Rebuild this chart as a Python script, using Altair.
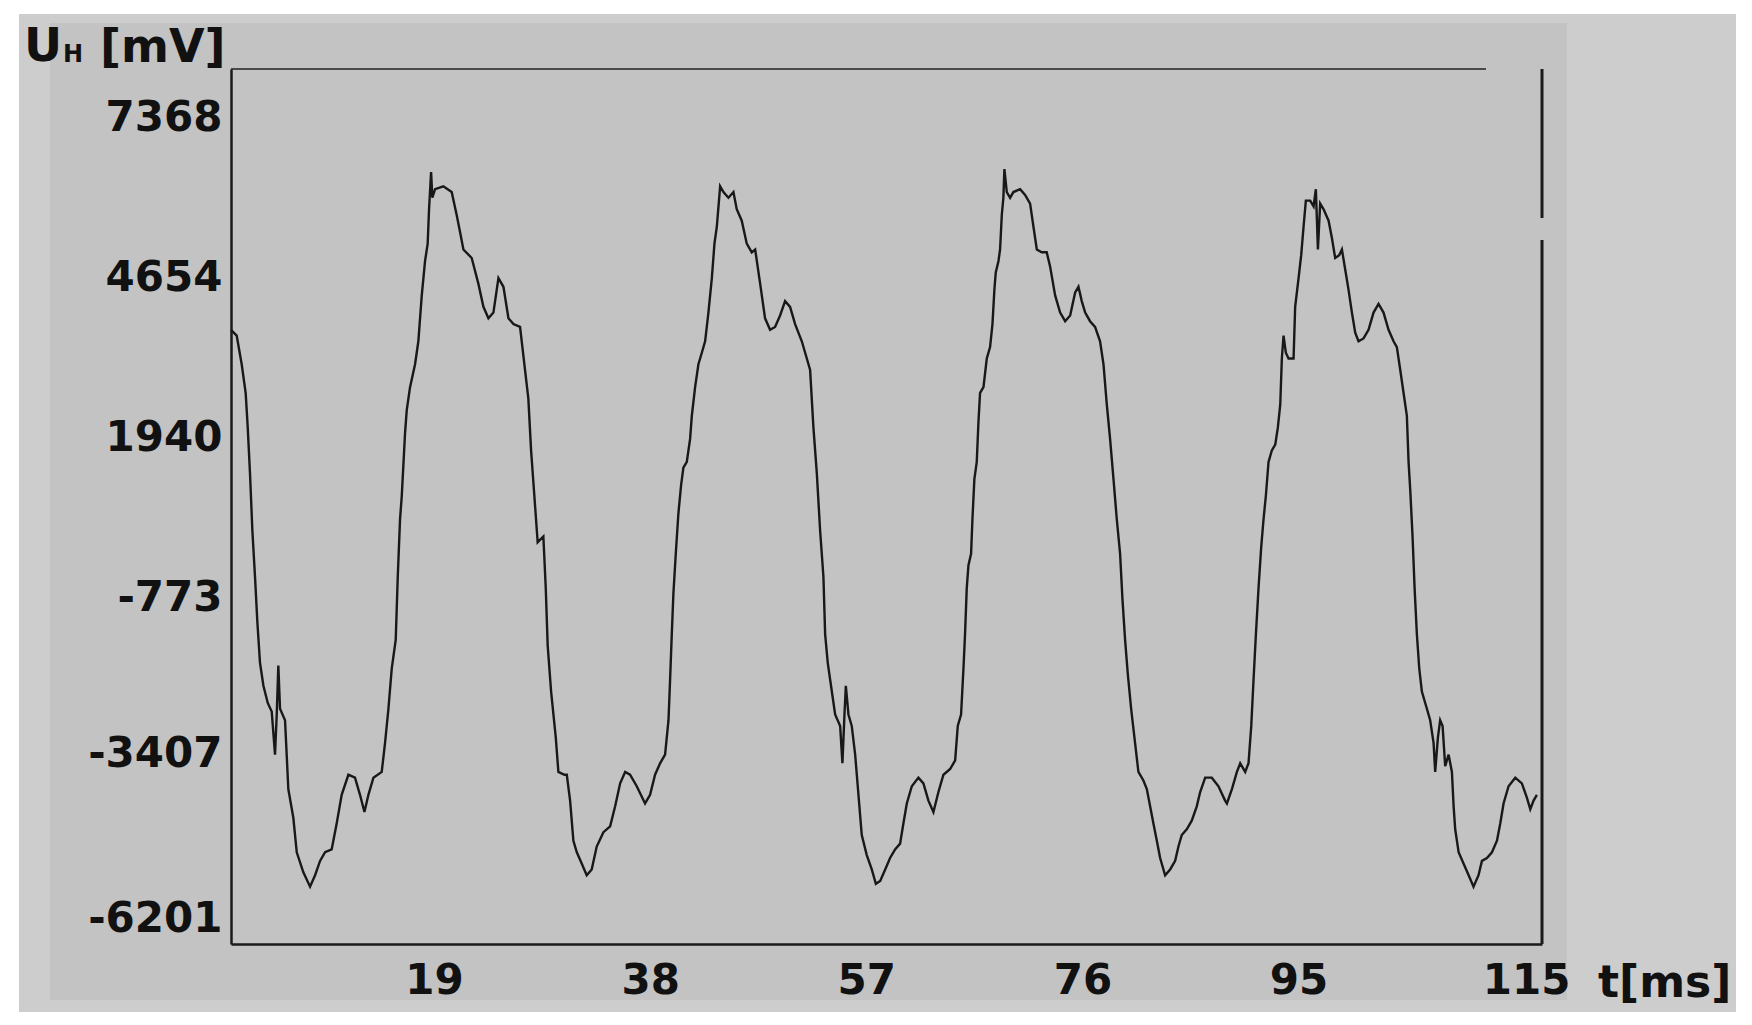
import altair as alt
import pandas as pd

# ---- data (t in ms, U_H in mV) ----
t_ms = [
    1.15, 1.65, 2.09, 2.44, 2.62, 2.82, 3.03, 3.26, 3.47, 3.70, 4.00, 4.38, 4.73, 5.02, 5.17, 5.31, 5.46, 5.90,
    6.19, 6.63, 6.93, 7.51, 8.10, 8.54, 8.98, 9.42, 10.00, 10.44, 10.88, 11.47, 12.05, 12.49, 12.88, 13.23,
    13.67, 14.40, 14.69, 14.99, 15.28, 15.63, 15.81, 16.01, 16.16, 16.45, 16.60, 16.89, 17.33, 17.62, 17.92,
    18.21, 18.44, 18.56, 18.74, 18.85, 19.09, 19.82, 20.55, 20.99, 21.29, 21.58, 22.31, 22.90, 23.34, 23.78,
    24.22, 24.66, 25.10, 25.54, 25.98, 26.56, 27.00, 27.29, 27.53, 27.82, 28.11, 28.61, 28.82, 28.99, 29.29,
    29.70, 29.93, 30.46,
    30.67, 30.96, 31.25, 31.55, 31.99, 32.42, 32.86, 33.30, 33.89, 34.48, 34.92, 35.36, 35.80, 36.23, 36.82,
    37.55, 37.99, 38.43, 38.87, 39.31, 39.61, 39.75, 39.90, 40.04, 40.25, 40.48, 40.72, 40.92, 41.22, 41.51,
    41.66, 41.95, 42.24, 42.54, 42.83, 43.12, 43.42, 43.65, 43.86, 44.15, 44.44, 44.88, 45.32, 45.61, 46.05,
    46.49, 46.93, 47.23, 47.67, 48.10, 48.54, 48.98, 49.42, 49.86, 50.30, 50.74, 51.33, 51.77, 52.06, 52.35,
    52.65, 52.94, 53.23, 53.38, 53.61, 53.97, 54.26, 54.70, 54.90, 55.08, 55.20, 55.43, 55.72, 56.02, 56.31,
    56.60, 57.04, 57.48, 57.84, 58.22, 58.66, 59.09, 59.53,
    59.97, 60.26, 60.56, 61.00, 61.58, 62.02, 62.46, 62.90, 63.34, 63.78, 64.37, 64.81, 65.04, 65.33, 65.54,
    65.68, 65.83, 65.98, 66.21, 66.33, 66.50, 66.71, 66.86, 67.00, 67.30, 67.59, 67.88, 68.09, 68.26, 68.38,
    68.62, 68.76, 68.91, 69.05, 69.14, 69.35, 69.64, 69.93, 70.52, 70.96, 71.40, 71.69, 71.99, 72.42, 72.86,
    73.16, 73.60, 74.04, 74.48, 74.92, 75.36, 75.65, 75.94, 76.24, 76.67, 77.11, 77.55, 77.85, 78.14, 78.43,
    78.73, 79.02, 79.31, 79.52, 79.75, 79.99, 80.28, 80.57, 80.92, 81.36, 81.66, 81.95, 82.24, 82.54, 82.83,
    83.27, 83.71, 84.15, 84.44, 84.73, 85.17, 85.61, 86.05, 86.35, 86.79, 87.37, 87.96, 88.54,
    88.70, 89.14, 89.58, 89.87, 90.31, 90.60, 90.84, 91.04, 91.25, 91.48, 91.71, 91.92, 92.12, 92.36, 92.65,
    92.95, 93.18, 93.39, 93.53, 93.68, 93.88, 94.12, 94.56, 94.70, 95.00, 95.23, 95.44, 95.64, 96.02, 96.32,
    96.52, 96.70, 96.90, 97.20, 97.64, 97.93, 98.22, 98.57, 98.81, 99.10, 99.39, 99.69, 99.98, 100.27, 100.71,
    101.15, 101.59, 102.03, 102.47, 102.91, 103.35, 103.64, 103.94, 104.23, 104.52, 104.67, 104.82, 105.02,
    105.20, 105.40, 105.61, 105.84, 106.28, 106.57, 106.87, 107.01, 107.25, 107.45, 107.66, 107.89, 108.19,
    108.48, 108.63, 108.77, 109.07, 109.51, 109.95, 110.38, 110.82, 111.12, 111.56, 112.00, 112.44, 112.73,
    113.02, 113.46, 114.05, 114.63, 115.07, 115.37, 115.66, 115.95,
]

u_mv = [
    3768, 3671, 3185, 2698, 2115, 1337, 364, -414, -1192, -1873, -2262, -2553, -2699, -3429, -2748, -1921, -2651, -2845,
    -4012, -4498, -5082, -5422, -5665, -5471, -5228, -5082, -5033, -4595, -4109, -3769, -3818, -4109, -4401, -4109,
    -3818, -3721, -3234, -2651, -1970, -1484, -414, 559, 948, 2017, 2407, 2796, 3185, 3574, 4351,
    4935, 5227, 5810, 6442, 6005, 6150, 6199, 6102, 5713, 5421, 5129, 4984, 4546, 4157, 3963,
    4060, 4643, 4497, 3963, 3865, 3817, 3087, 2601, 1725, 948, 170, 267, -608, -1581, -2359,
    -3137, -3721, -3769,
    -3769, -4207, -4887, -5082, -5276, -5471, -5373, -4985, -4742, -4644, -4304, -3915, -3721, -3769, -3964,
    -4255, -4109, -3769, -3575, -3429, -2845, -2164, -1386, -705, -25, 656, 1142, 1434, 1531, 1920,
    2309, 2796, 3185, 3379, 3574, 4060, 4643, 5227, 5518, 6199, 6102, 6005, 6102, 5810, 5616,
    5227, 5081, 5129, 4546, 3963, 3768, 3817, 4011, 4254, 4157, 3865, 3574, 3282, 3087, 2115,
    1337, 364, -414, -1386, -1873, -2359, -2748, -2942, -3575, -2748, -2262, -2748, -2942, -3429, -4109,
    -4790, -5130, -5373, -5617, -5568, -5373, -5179, -5033,
    -4936, -4595, -4255, -3964, -3818, -3915, -4207, -4401, -4061, -3769, -3672, -3526, -2942, -2748, -1970,
    -1386, -608, -219, -25, 559, 1239, 1531, 2212, 2698, 2796, 3282, 3476, 3865, 4449, 4740,
    4935, 5129, 5713, 6005, 6491, 6102, 6005, 6102, 6150, 6053, 5907, 5518, 5129, 5081, 5081,
    4838, 4351, 4060, 3914, 4011, 4400, 4497, 4254, 4060, 3914, 3817, 3574, 3185, 2504, 1920,
    1239, 559, -25, -803, -1484, -2067, -2651, -3137, -3721, -3866, -4012, -4304, -4595, -4887, -5179,
    -5471, -5373, -5228, -4985, -4790, -4693, -4547, -4304, -4061, -3818, -3818, -3964, -4207,
    -4255, -4012, -3721, -3575, -3721, -3575, -2942, -2164, -1386, -608, 73, 559, 948, 1531, 1725,
    1823, 2115, 2504, 3282, 3671, 3379, 3282, 3282, 4157, 4643, 5032, 5518, 5956, 5956, 5859,
    6150, 5129, 5907, 5810, 5616, 5324, 4984, 5032, 5129, 4789, 4449, 4060, 3720, 3574, 3622,
    3768, 4060, 4206, 4060, 3768, 3574, 3476, 3087, 2698, 2309, 1531, 1045, 267,
    -608, -1386, -1970, -2359, -2651, -2845, -3234, -3721, -3137, -2845, -2942, -3623, -3429,
    -3721, -4304, -4693, -5082, -5276, -5471, -5665, -5471, -5228, -5179, -5082, -4887, -4595,
    -4255, -3964, -3818, -3915, -4158, -4353, -4207, -4109,
]

x_ticks = [19, 38, 57, 76, 95, 115]
y_ticks = [7368, 4654, 1940, -773, -3407, -6201]
x_domain = [1.15, 116.4]
y_domain = [-6636, 8186]

W, H = 1311, 875
FONT = "DejaVu Sans"

df = pd.DataFrame({"t": t_ms, "u": u_mv})
one = pd.DataFrame({"k": [0]})

# background panels (decoration, pixel positions relative to plot area)
outer = alt.Chart(one).mark_rect(color="#cdcdcd").encode(
    x=alt.value(-212), x2=alt.value(1505), y=alt.value(-55), y2=alt.value(943)
)
inner = alt.Chart(one).mark_rect(color="#c3c3c3").encode(
    x=alt.value(-181), x2=alt.value(1336), y=alt.value(-46), y2=alt.value(931)
)

line = alt.Chart(df).mark_line(color="#181818", strokeWidth=2.4).encode(
    x=alt.X(
        "t:Q",
        scale=alt.Scale(domain=x_domain, nice=False, zero=False),
        axis=alt.Axis(
            values=x_ticks, labelExpr="toString(datum.value)", title=None, grid=False, ticks=False,
            domain=True, domainColor="#1a1a1a", domainWidth=2.5,
            labelFont=FONT, labelFontSize=42, labelFontWeight="bold", labelColor="#111111",
            labelPadding=16, labelBaseline="top", labelAlign="center", zindex=1,
        ),
    ),
    y=alt.Y(
        "u:Q",
        scale=alt.Scale(domain=y_domain, nice=False, zero=False),
        axis=alt.Axis(
            values=y_ticks, labelExpr="toString(datum.value)", title=None, grid=False, ticks=False,
            domain=True, domainColor="#1a1a1a", domainWidth=2.5,
            labelFont=FONT, labelFontSize=42, labelFontWeight="bold", labelColor="#111111",
            labelPadding=9, labelAlign="right", labelBaseline="middle", zindex=1,
        ),
    ),
)

# frame top and right (decoration)
top_rule = alt.Chart(one).mark_rule(color="#4a4a4a", strokeWidth=2).encode(
    x=alt.value(0), x2=alt.value(1255), y=alt.value(0)
)
right_a = alt.Chart(one).mark_rule(color="#1a1a1a", strokeWidth=3).encode(
    x=alt.value(W), y=alt.value(0), y2=alt.value(149)
)
right_b = alt.Chart(one).mark_rule(color="#1a1a1a", strokeWidth=3).encode(
    x=alt.value(W), y=alt.value(171), y2=alt.value(H)
)

def label(txt, px, py, size):
    return alt.Chart(one).mark_text(
        text=txt, font=FONT, fontSize=size, fontWeight="bold", color="#111111",
        align="left", baseline="alphabetic",
    ).encode(x=alt.value(px), y=alt.value(py))

t_u = label("U", -207, -8, 47)
t_h = label("H", -168, -7, 24)
t_mv = label("[mV]", -131, -7, 46)
t_t = label("t[ms]", 1367, 928, 44)

chart = alt.layer(
    outer, inner, top_rule, right_a, right_b, line, t_u, t_h, t_mv, t_t
).properties(
    width=W, height=H,
    autosize=alt.AutoSizeParams(type="none"),
    padding={"left": 223, "top": 61, "right": 202, "bottom": 69},
    background="#ffffff",
).configure_view(stroke=None)

chart.save("out.html", embed_options={"renderer": "svg", "actions": False})
